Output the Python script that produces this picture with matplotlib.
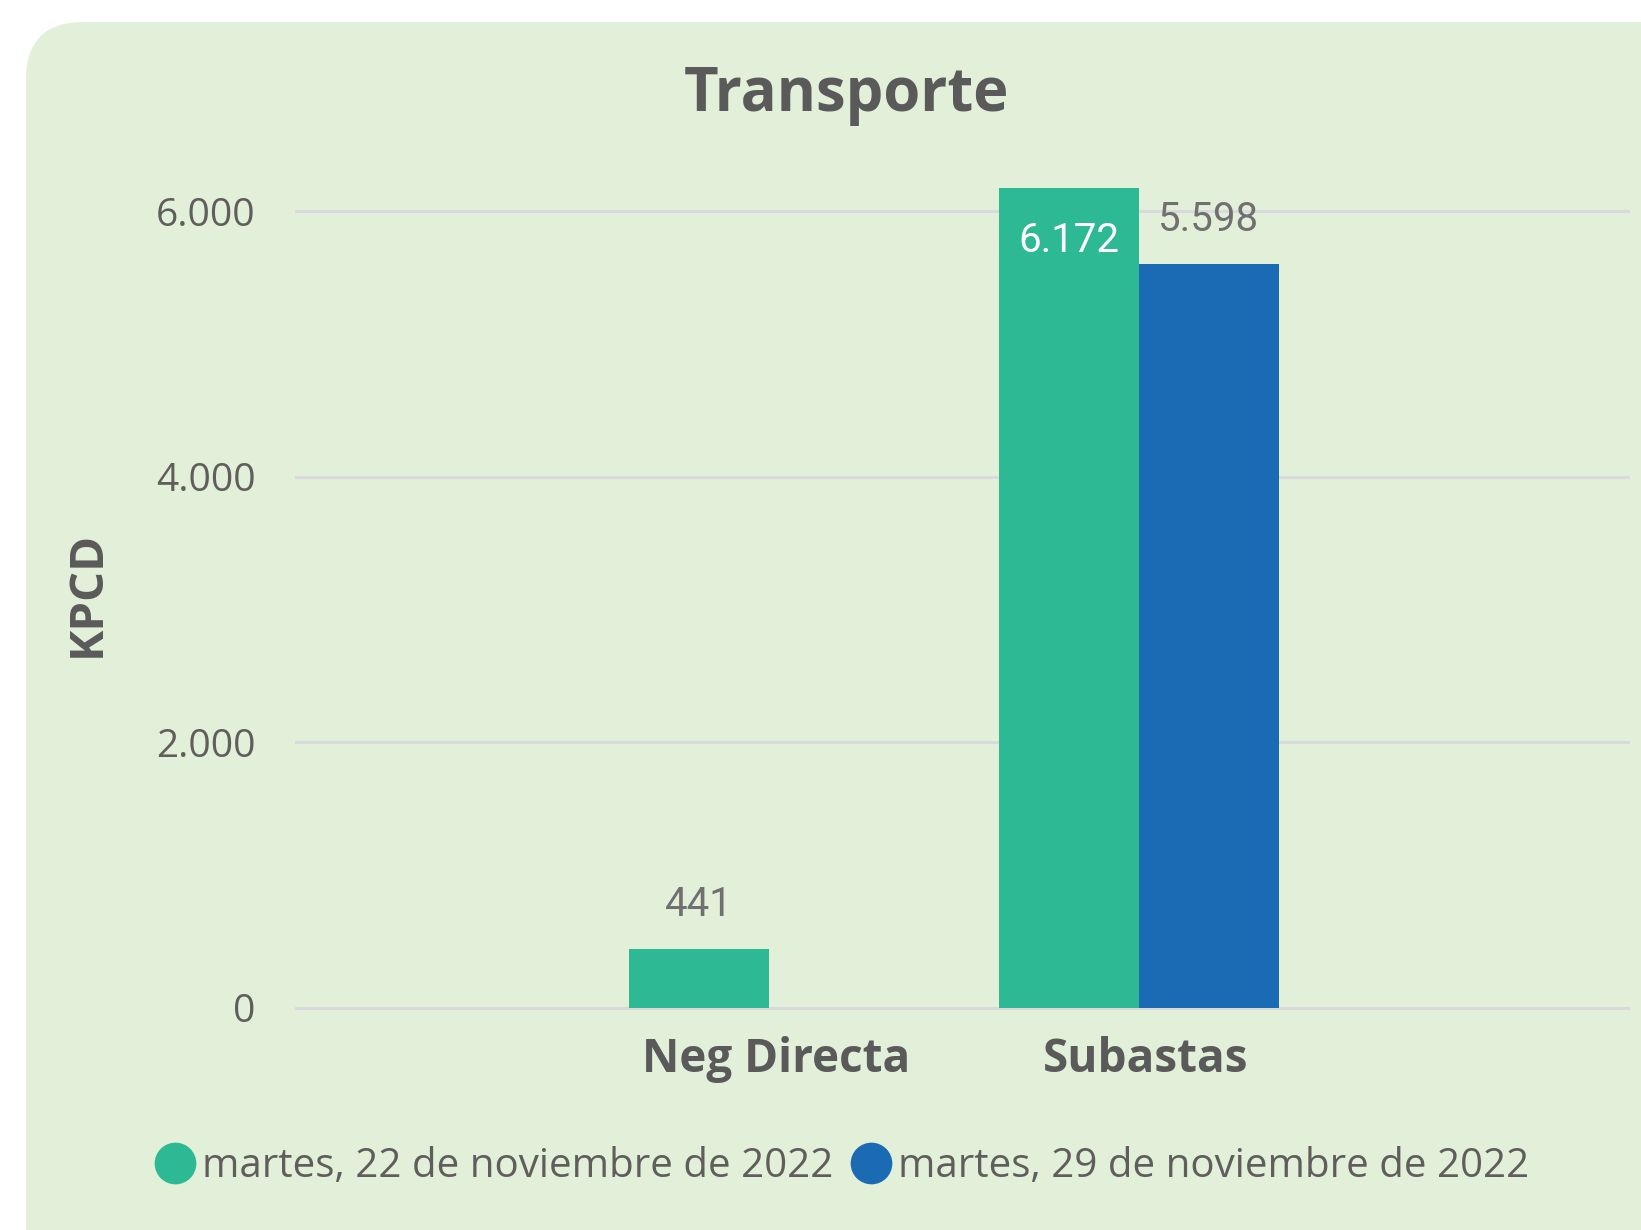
import matplotlib.pyplot as plt
import matplotlib.transforms as mtransforms
import numpy as np
from matplotlib.lines import Line2D
from matplotlib.patches import FancyBboxPatch

# ── data ──
categories = ["Neg Directa", "Subastas"]
series_names = ["martes, 22 de noviembre de 2022", "martes, 29 de noviembre de 2022"]
values_nov22 = [441, 6172]
values_nov29 = [np.nan, 5598]
yticks = [0, 2000, 4000, 6000]
ytick_labels = ["0", "2.000", "4.000", "6.000"]

colors = ["#2CB994", "#1A6BB3"]
bg = "#E2EFD9"
text_dark = "#5A5A5A"
tick_color = "#605E5C"
label_grey = "#707070"

W, H = 1641, 1230
fig = plt.figure(figsize=(W / 100, H / 100), dpi=100)
fig.patch.set_facecolor("white")

# rounded card behind the chart
card = FancyBboxPatch((26 / W, -0.05), 1.2, 1 - 22 / H + 0.05,
                      boxstyle="round,pad=0,rounding_size=0.035",
                      transform=fig.transFigure, facecolor=bg, edgecolor="none",
                      mutation_aspect=W / H, zorder=-5)
fig.patches.append(card)

ax_top, ax_bottom = 170, 1008
ax = fig.add_axes([296 / W, 1 - ax_bottom / H, 1332 / W, (ax_bottom - ax_top) / H])
ax.set_facecolor("none")
ax.set_zorder(2)

x = np.arange(len(categories))
w = 0.378
b1 = ax.bar(x - w / 2, values_nov22, w, color=colors[0], zorder=3)
b2 = ax.bar(x + w / 2, values_nov29, w, color=colors[1], zorder=3)

ax.set_xlim(-1.278, 2.322)
ax.set_ylim(0, 6309)

ymax = ax.get_ylim()[1]
for bars, vals in ((b1, values_nov22), (b2, values_nov29)):
    for rect, v in zip(bars, vals):
        if np.isnan(v):
            continue
        cx = rect.get_x() + rect.get_width() / 2
        lab = f"{v:,.0f}".replace(",", ".")
        if v > ymax * 0.95:
            ax.annotate(lab, (cx, v), xytext=(0, -46), textcoords="offset points",
                        ha="center", va="baseline", color="white",
                        fontsize=29, family="Roboto", zorder=4)
        else:
            ax.annotate(lab, (cx, v), xytext=(0, 24), textcoords="offset points",
                        ha="center", va="baseline", color=label_grey,
                        fontsize=29, family="Roboto", zorder=4)

ax.set_yticks(yticks)
ax.set_yticklabels(ytick_labels)
ax.set_xticks(x)
ax.set_xticklabels(categories, fontweight="bold")
ax.tick_params(axis="y", length=0, pad=29, labelsize=28, labelcolor=tick_color)
ax.tick_params(axis="x", length=0, pad=20, labelsize=33, labelcolor=text_dark)
shift = mtransforms.ScaledTranslation(5 / 72, 0, fig.dpi_scale_trans)
for lab in ax.get_xticklabels():
    lab.set_transform(lab.get_transform() + shift)
for lab in ax.get_yticklabels() + ax.get_xticklabels():
    lab.set_family("Open Sans")
ax.grid(axis="y", color="#DAD9DD", lw=2.2, zorder=0)
for gl in ax.get_ygridlines():
    gl.set_clip_on(False)
ax.set_axisbelow(True)
for s in ax.spines.values():
    s.set_visible(False)

fig.text(87 / W, 1 - 594 / H, "KPCD", rotation=90, ha="center", va="center",
         fontsize=34, fontweight="bold", color=text_dark, family="Open Sans")
fig.text(847 / W, 1 - 111 / H, "Transporte", ha="center", va="baseline",
         fontsize=43, fontweight="bold", color=text_dark, family="Open Sans")

handles = [Line2D([], [], marker="o", ls="none", markersize=29, color=c) for c in colors]
leg = fig.legend(handles, series_names, loc="center left",
                 bbox_to_anchor=(156 / W, 1 - 1167 / H), ncol=2, frameon=False,
                 borderpad=0, borderaxespad=0, handlelength=0.95, handletextpad=0.2,
                 columnspacing=0.45, prop={"family": "Open Sans", "size": 29})
for t in leg.get_texts():
    t.set_color(tick_color)

fig.savefig("out.png", dpi=100, facecolor=fig.get_facecolor())
